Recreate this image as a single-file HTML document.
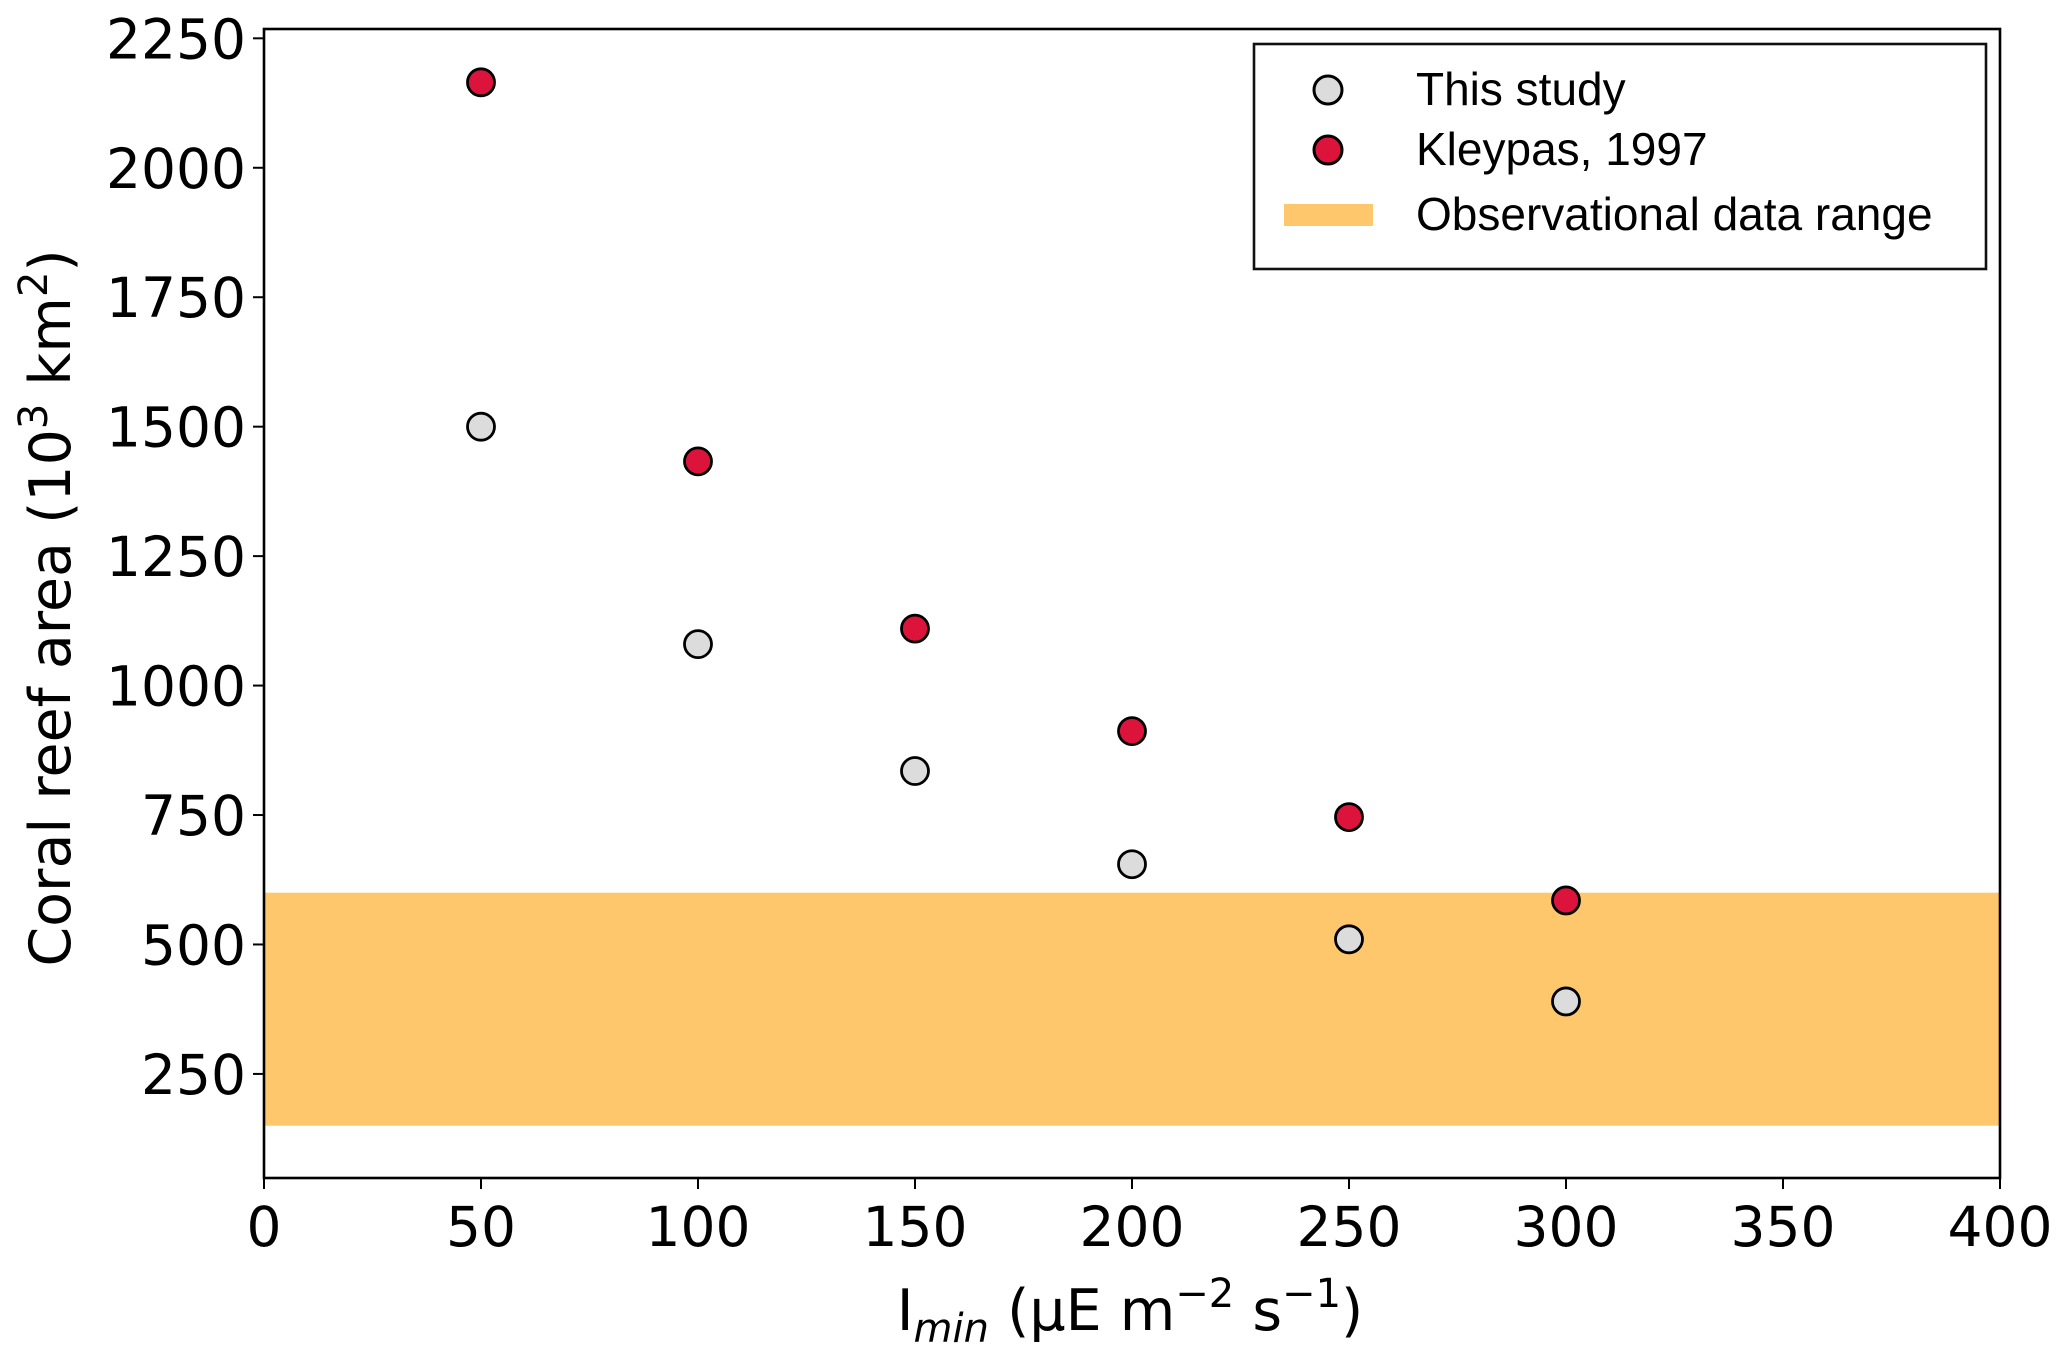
<!DOCTYPE html>
<html><head><meta charset="utf-8"><style>
html,body{margin:0;padding:0;background:#fff;}
svg{display:block;}
</style></head><body>
<svg id="chart" width="2067" height="1352" viewBox="0 0 2067 1352" xmlns="http://www.w3.org/2000/svg" font-family="'DejaVu Sans', 'Liberation Sans', sans-serif">
<g id="band"></g>
<g id="ticks"></g>
<g id="points"></g>
<rect x="264" y="29" width="1736" height="1149" fill="none" stroke="#000" stroke-width="2.6"/>
<text transform="translate(70,608) rotate(-90)" text-anchor="middle" font-size="57">Coral reef area (10<tspan dy="-23" font-size="40">3</tspan><tspan dy="23"> km</tspan><tspan dy="-23" font-size="40">2</tspan><tspan dy="23">)</tspan></text>
<text x="1130" y="1330" text-anchor="middle" font-size="57">I<tspan font-size="40" font-style="italic" dy="12">min</tspan><tspan dy="-12"> (µE m</tspan><tspan dy="-23" font-size="40">−2</tspan><tspan dy="23"> s</tspan><tspan dy="-23" font-size="40">−1</tspan><tspan dy="23">)</tspan></text>
<g>
<rect x="1254" y="44" width="732" height="225" fill="#fff" stroke="#111" stroke-width="2.6"/>
<circle cx="1328" cy="90" r="14" fill="#dcdcdc" stroke="#000" stroke-width="3"/>
<text x="1416" y="105" font-size="46" font-family="'Liberation Sans', sans-serif">This study</text>
<circle cx="1328" cy="150" r="14" fill="#dc143c" stroke="#000" stroke-width="3"/>
<text x="1416" y="165" font-size="46" font-family="'Liberation Sans', sans-serif">Kleypas, 1997</text>
<rect x="1284" y="204" width="89" height="22" fill="#fec76b"/>
<text x="1416" y="230" font-size="46" font-family="'Liberation Sans', sans-serif">Observational data range</text>
</g>
</svg>
<script>
const xTicks = [0, 50, 100, 150, 200, 250, 300, 350, 400];
const yTicks = [250, 500, 750, 1000, 1250, 1500, 1750, 2000, 2250];
const xValues = [50, 100, 150, 200, 250, 300];
const thisStudy = [1500, 1080, 835, 655, 510, 390];
const kleypas = [2165, 1433, 1110, 912, 746, 585];
const bandRange = [150, 600];

const NS = 'http://www.w3.org/2000/svg';
const L = 264, R = 2000, T = 29, B = 1178;
const xMin = 0, xMax = 400, yMin = 49, yMax = 2268;
function xs(v){ return L + (v - xMin) / (xMax - xMin) * (R - L); }
function ys(v){ return B - (v - yMin) / (yMax - yMin) * (B - T); }
function mk(tag, attrs){ const e = document.createElementNS(NS, tag); for (const k in attrs) e.setAttribute(k, attrs[k]); return e; }

const band = mk('rect', {x: L, y: ys(bandRange[1]), width: R - L, height: ys(bandRange[0]) - ys(bandRange[1]), fill: '#fec76b'});


document.getElementById('band').appendChild(band);

const tg = document.getElementById('ticks');
xTicks.forEach(v => {
  const ln = mk('line', {x1: xs(v), x2: xs(v), y1: B, y2: B + 11, stroke: '#000', 'stroke-width': 2});
  
  
  tg.appendChild(ln);
  const t = mk('text', {x: xs(v), y: B + 68, 'text-anchor': 'middle', 'font-size': 55});
  
  
  t.textContent = v;
  tg.appendChild(t);
});
yTicks.forEach(v => {
  const ln = mk('line', {x1: L - 11, x2: L, y1: ys(v), y2: ys(v), stroke: '#000', 'stroke-width': 2});
  
  
  tg.appendChild(ln);
  const t = mk('text', {x: L - 18, y: ys(v) + 20, 'text-anchor': 'end', 'font-size': 55});
  
  
  t.textContent = v;
  tg.appendChild(t);
});

const pg = document.getElementById('points');
xValues.forEach((x, i) => {
  const c1 = mk('circle', {cx: xs(x), cy: ys(thisStudy[i]), r: 13.5, fill: '#dcdcdc', stroke: '#000', 'stroke-width': 2.8});
  
  
  pg.appendChild(c1);
  const c2 = mk('circle', {cx: xs(x), cy: ys(kleypas[i]), r: 13.5, fill: '#dc143c', stroke: '#000', 'stroke-width': 2.8});
  
  
  pg.appendChild(c2);
});
</script>
</body></html>
